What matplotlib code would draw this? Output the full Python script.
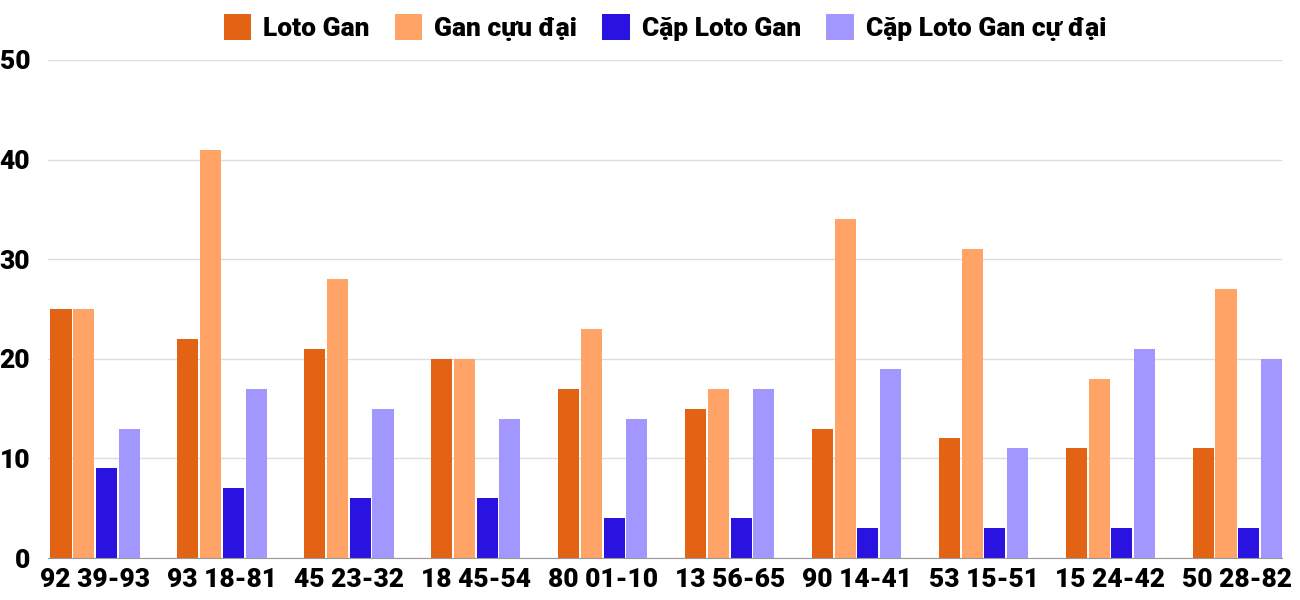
import matplotlib
matplotlib.use("Agg")
import matplotlib.pyplot as plt
import numpy as np

categories = ["92 39-93", "93 18-81", "45 23-32", "18 45-54", "80 01-10",
              "13 56-65", "90 14-41", "53 15-51", "15 24-42", "50 28-82"]
loto_gan = [25, 22, 21, 20, 17, 15, 13, 12, 11, 11]
gan_cuc_dai = [25, 41, 28, 20, 23, 17, 34, 31, 18, 27]
cap_loto_gan = [9, 7, 6, 6, 4, 4, 3, 3, 3, 3]
cap_loto_gan_cuc_dai = [13, 17, 15, 14, 14, 17, 19, 11, 21, 20]
series_names = ["Loto Gan", "Gan cựu đại", "Cặp Loto Gan", "Cặp Loto Gan cự đại"]
colors = ["#E26313", "#FFA366", "#2A12E0", "#A297FF"]
yticks = [0, 10, 20, 30, 40, 50]

plt.rcParams['font.family'] = ['Roboto', 'DejaVu Sans']
W = 'black'

fig = plt.figure(figsize=(13, 6), dpi=100)
ax = fig.add_axes([0.037, 0.07, 0.949, 0.83])

x = np.arange(len(categories))
step = 0.179
width = 0.166
series = [loto_gan, gan_cuc_dai, cap_loto_gan, cap_loto_gan_cuc_dai]
for i, (vals, name, c) in enumerate(zip(series, series_names, colors)):
    ax.bar(x + (i - 1.5) * step, vals, width, color=c, label=name, zorder=3)

ax.set_xlim(-0.37, 9.35)
ax.set_ylim(0, 50)
ax.set_yticks(yticks)
ax.set_yticklabels([str(t) for t in yticks], fontsize=19, fontweight=W)
ax.set_xticks(x)
ax.set_xticklabels(categories, fontsize=19, fontweight=W)
ax.grid(axis='y', color='#DDDDDD', linewidth=1, zorder=0)
for s in ['top', 'right', 'left']:
    ax.spines[s].set_visible(False)
ax.spines['bottom'].set_color('#999999')
ax.spines['bottom'].set_zorder(4)
ax.tick_params(axis='both', length=0)
ax.tick_params(axis='y', pad=13)
ax.tick_params(axis='x', pad=7)

leg = ax.legend(loc='center', bbox_to_anchor=(0.5, 1.065), ncol=4, frameon=False,
                handlelength=1.05, handleheight=1.15, handletextpad=0.45,
                columnspacing=0.95, prop={'weight': W, 'size': 19})

fig.savefig("out.png", dpi=100)
